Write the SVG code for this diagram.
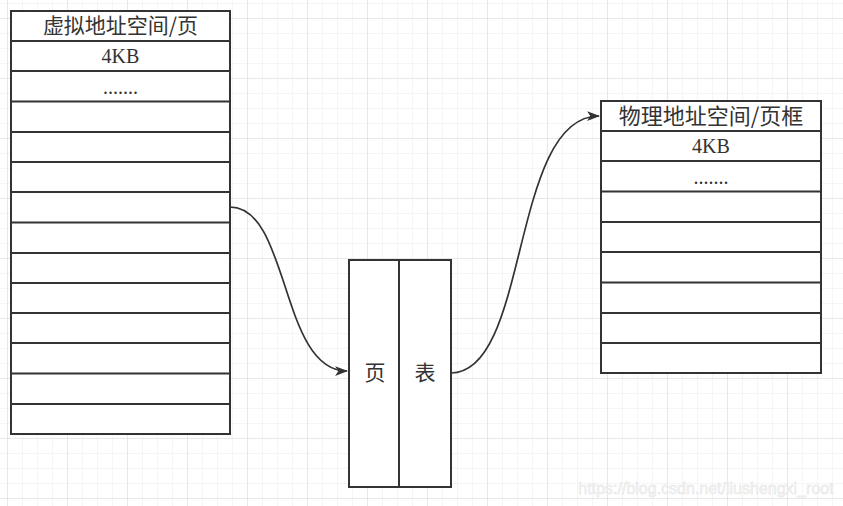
<svg xmlns="http://www.w3.org/2000/svg" width="843" height="506" viewBox="0 0 843 506">
<style>
.box{fill:#ffffff;stroke:#333333;stroke-width:2}
.ln{stroke:#333333;stroke-width:2}
.cjk{font-family:"Noto Sans CJK SC","Noto Sans",sans-serif;fill:#333333;text-anchor:middle}
.ser{font-family:"Liberation Serif",serif;font-size:20px;fill:#333333;text-anchor:middle}
.edge{fill:none;stroke:#333333;stroke-width:1.7}
</style>
<defs>
<pattern id="g1" width="15" height="15" patternUnits="userSpaceOnUse" x="7" y="3">
<path d="M0 0H15M0 0V15" fill="none" stroke="#ebebeb" stroke-width="1"/>
</pattern>
<pattern id="g2" width="60" height="60" patternUnits="userSpaceOnUse" x="7" y="18">
<path d="M0 0H60M0 0V60" fill="none" stroke="#dcdcdc" stroke-width="1"/>
</pattern>
<marker id="arr" viewBox="0 0 12 10" refX="11" refY="5" markerWidth="13" markerHeight="11" markerUnits="userSpaceOnUse" orient="auto">
<path d="M0 0.5L12 5L0 9.5L3 5Z" fill="#333333"/>
</marker>
</defs>
<rect width="843" height="506" fill="#ffffff"/>
<rect width="843" height="506" fill="url(#g1)"/>
<rect width="843" height="506" fill="url(#g2)"/>

<g id="virtual">
<rect class="box" x="11" y="11" width="219" height="423"/>
<line class="ln" x1="11" y1="41" x2="230" y2="41"/>
<line class="ln" x1="11" y1="71" x2="230" y2="71"/>
<line class="ln" x1="11" y1="101.5" x2="230" y2="101.5"/>
<line class="ln" x1="11" y1="132" x2="230" y2="132"/>
<line class="ln" x1="11" y1="162" x2="230" y2="162"/>
<line class="ln" x1="11" y1="192" x2="230" y2="192"/>
<line class="ln" x1="11" y1="222.5" x2="230" y2="222.5"/>
<line class="ln" x1="11" y1="253" x2="230" y2="253"/>
<line class="ln" x1="11" y1="283" x2="230" y2="283"/>
<line class="ln" x1="11" y1="313" x2="230" y2="313"/>
<line class="ln" x1="11" y1="343" x2="230" y2="343"/>
<line class="ln" x1="11" y1="373.5" x2="230" y2="373.5"/>
<line class="ln" x1="11" y1="404" x2="230" y2="404"/>
<text class="cjk" x="120.5" y="33" font-size="21">虚拟地址空间/页</text>
<text class="ser" x="120.5" y="63">4KB</text>
<text class="ser" x="120.5" y="94">.......</text>
</g>

<g id="physical">
<rect class="box" x="601" y="101" width="220" height="272"/>
<line class="ln" x1="601" y1="131" x2="821" y2="131"/>
<line class="ln" x1="601" y1="161" x2="821" y2="161"/>
<line class="ln" x1="601" y1="191.5" x2="821" y2="191.5"/>
<line class="ln" x1="601" y1="222" x2="821" y2="222"/>
<line class="ln" x1="601" y1="252" x2="821" y2="252"/>
<line class="ln" x1="601" y1="282.5" x2="821" y2="282.5"/>
<line class="ln" x1="601" y1="313" x2="821" y2="313"/>
<line class="ln" x1="601" y1="343" x2="821" y2="343"/>
<text class="cjk" x="711" y="124" font-size="22">物理地址空间/页框</text>
<text class="ser" x="711" y="153">4KB</text>
<text class="ser" x="711" y="184">.......</text>
</g>

<g id="pagetable">
<rect class="box" x="349" y="260" width="102" height="227"/>
<line class="ln" x1="399" y1="260" x2="399" y2="487"/>
<text class="cjk" x="375" y="380" font-size="21">页</text>
<text class="cjk" x="425" y="380" font-size="21">表</text>
</g>

<g id="connectors">
<path class="edge" d="M230 207C290 207 280 371 347 371" marker-end="url(#arr)"/>
<path class="edge" d="M451 373C530 373 510 116 599 116" marker-end="url(#arr)"/>
</g>

<text x="706" y="494" font-family="Liberation Sans,Arial,sans-serif" font-size="16" fill="#f4f4f4" stroke="#e2e2e2" stroke-width="0.4" text-anchor="middle">https://blog.csdn.net/liushengxi_root</text>
</svg>
